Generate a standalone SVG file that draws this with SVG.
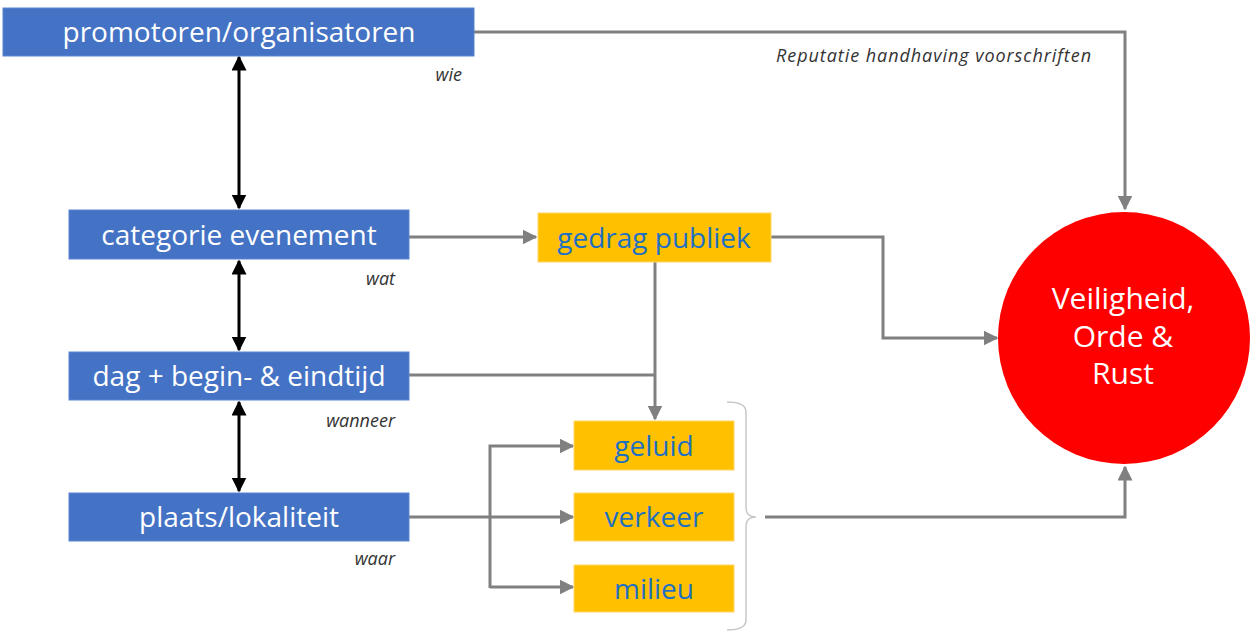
<svg xmlns="http://www.w3.org/2000/svg" width="1250" height="632" viewBox="0 0 1250 632">
<style>
.blue{fill:#4472C4;stroke:#5a84cf;stroke-width:1}
.yel{fill:#FFC000;stroke:#ffd766;stroke-width:1}
.bt{font-family:"Open Sans","Noto Sans",sans-serif;font-size:28px;fill:#fff;text-anchor:middle}
.yt{font-family:"Open Sans","Noto Sans",sans-serif;font-size:28px;fill:#1F70C1;text-anchor:middle}
.ct{font-family:"Open Sans","Noto Sans",sans-serif;font-size:30px;fill:#fff;text-anchor:middle}
.lab{font-family:"Open Sans","Noto Sans",sans-serif;font-size:18px;font-style:italic;fill:#333;text-anchor:end}
.g{fill:none;stroke:#808080;stroke-width:3}
.k{fill:none;stroke:#000;stroke-width:3}
</style>
<defs>
<marker id="ga" viewBox="0 0 10 10" refX="9" refY="5" markerWidth="5" markerHeight="5" orient="auto-start-reverse" markerUnits="strokeWidth"><path d="M0,0 L10,5 L0,10 z" fill="#808080"/></marker>
<marker id="ka" viewBox="0 0 10 10" refX="9" refY="5" markerWidth="5" markerHeight="5" orient="auto-start-reverse" markerUnits="strokeWidth"><path d="M0,0 L10,5 L0,10 z" fill="#000"/></marker>
</defs>
<rect width="1250" height="632" fill="#fff"/>
<g id="connectors">
<path class="g" d="M474,32 H1125 V209" marker-end="url(#ga)"/>
<path class="g" d="M409,237 H536" marker-end="url(#ga)"/>
<path class="g" d="M771,237 H883 V338 H997" marker-end="url(#ga)"/>
<path class="g" d="M655,262 V419" marker-end="url(#ga)"/>
<path class="g" d="M409,375 H655"/>
<path class="g" d="M409,517 H573" marker-end="url(#ga)"/>
<path class="g" d="M490,588 V446 H573" marker-end="url(#ga)"/>
<path class="g" d="M490,587 H573" marker-end="url(#ga)"/>
<path class="g" d="M765,517 H1125 V467" marker-end="url(#ga)"/>
<path class="k" d="M239,57 V208" marker-start="url(#ka)" marker-end="url(#ka)"/>
<path class="k" d="M239,261 V350" marker-start="url(#ka)" marker-end="url(#ka)"/>
<path class="k" d="M239,402 V491" marker-start="url(#ka)" marker-end="url(#ka)"/>
<path d="M727,402 Q746,402 746,412 V508 Q746,517 756,517 Q746,517 746,526 V620 Q746,630 727,630" fill="none" stroke="#c8c8c8" stroke-width="1.5"/>
<text class="lab" x="1091" y="62" textLength="315">Reputatie handhaving voorschriften</text>
</g>
<g id="promotoren">
<rect class="blue" x="3" y="8" width="471" height="48"/>
<text class="bt" x="239" y="42">promotoren/organisatoren</text>
<text class="lab" x="462" y="81">wie</text>
</g>
<g id="categorie">
<rect class="blue" x="69" y="210" width="340" height="49"/>
<text class="bt" x="239" y="245">categorie evenement</text>
<text class="lab" x="395" y="285">wat</text>
</g>
<g id="dag">
<rect class="blue" x="69" y="352" width="340" height="48"/>
<text class="bt" x="239" y="386">dag + begin- &amp; eindtijd</text>
<text class="lab" x="395" y="427">wanneer</text>
</g>
<g id="plaats">
<rect class="blue" x="69" y="493" width="340" height="48"/>
<text class="bt" x="239" y="527">plaats/lokaliteit</text>
<text class="lab" x="395" y="565">waar</text>
</g>
<g id="gedrag">
<rect class="yel" x="538" y="213" width="233" height="49"/>
<text class="yt" x="654" y="248">gedrag publiek</text>
</g>
<g id="geluid">
<rect class="yel" x="574" y="421" width="160" height="49"/>
<text class="yt" x="654" y="456">geluid</text>
</g>
<g id="verkeer">
<rect class="yel" x="574" y="493" width="160" height="48"/>
<text class="yt" x="654" y="527">verkeer</text>
</g>
<g id="milieu">
<rect class="yel" x="574" y="565" width="160" height="47"/>
<text class="yt" x="654" y="599">milieu</text>
</g>
<g id="veiligheid">
<circle cx="1124" cy="338" r="126" fill="#FF0000"/>
<text class="ct" x="1123" y="309">Veiligheid,</text>
<text class="ct" x="1123" y="347">Orde &amp;</text>
<text class="ct" x="1123" y="384">Rust</text>
</g>
</svg>
